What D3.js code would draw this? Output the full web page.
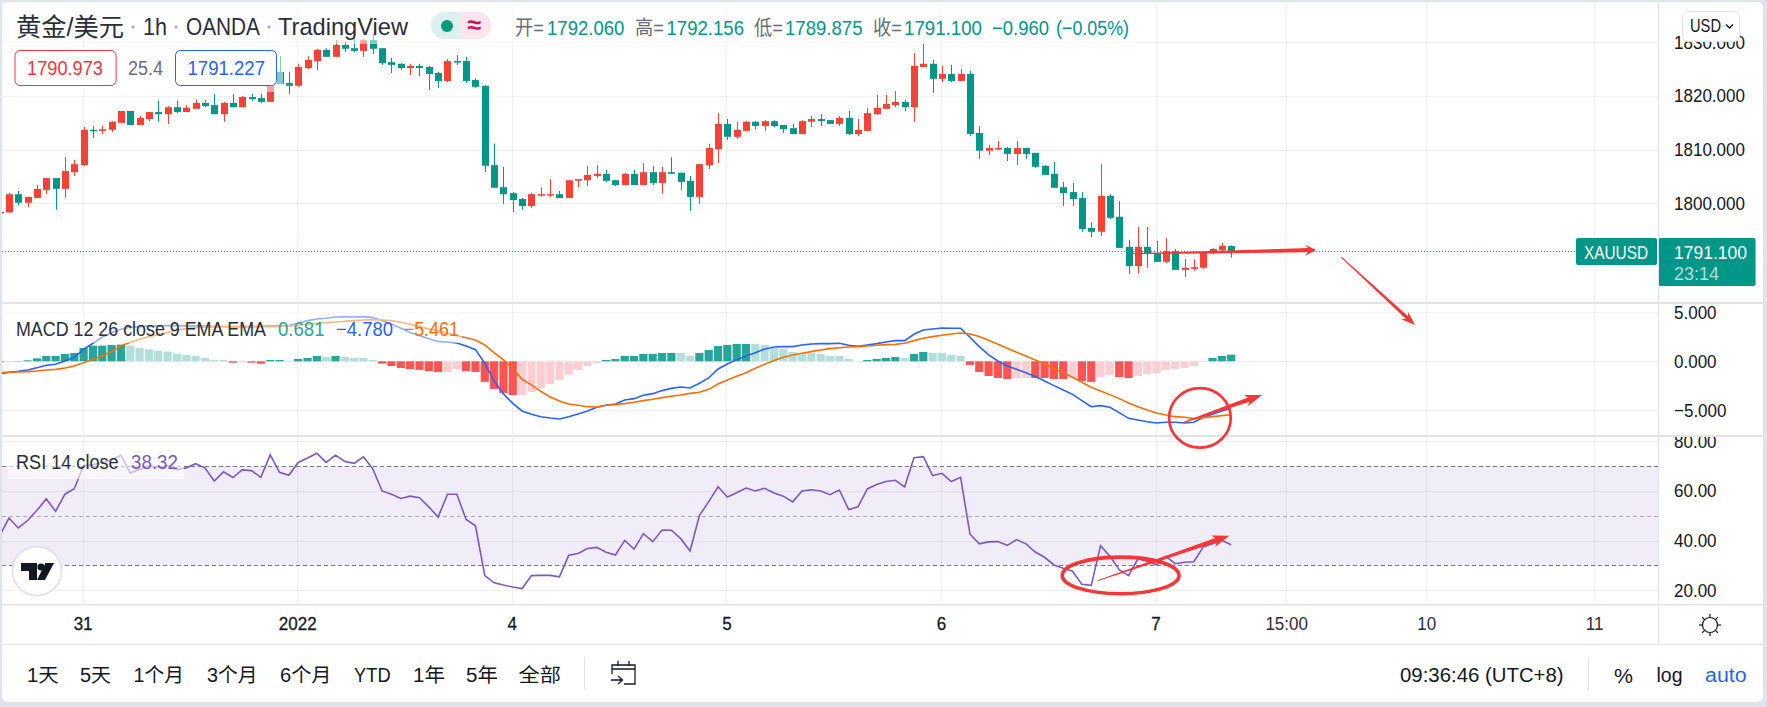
<!DOCTYPE html>
<html><head><meta charset="utf-8">
<script src="https://cdnjs.cloudflare.com/ajax/libs/d3/7.8.5/d3.min.js"></script>
<style>html,body{margin:0;padding:0;background:#e0e3eb;overflow:hidden}svg{display:block}
text{font-family:"Liberation Sans","Noto Sans CJK SC",sans-serif}</style></head>
<body><svg id="c" width="1767" height="707"></svg>
<script>
const firstIndex = -9;
const opens = [1798.2,1798.3,1801.7,1800.1,1801,1802.5,1804.7,1802.7,1805.8,
1807.1,1813.7,1813.5,1813.7,1815,1817.2,1814.6,1815.7,1817,1816.6,
1817.9,1817,1817.6,1818.7,1818.3,1816.6,1818.7,1817.9,1819.8,1819.6,
1818.9,1824.5,1822.4,1821.9,1825.2,1826.5,1828.6,1827.3,1829.5,1828.9,
1828.4,1830.4,1828.9,1826.3,1826,1825.2,1825.6,1825.4,1824.3,1822.8,
1826.5,1826.5,1823,1821.9,1807.1,1803,1801.9,1800.8,1799.5,1801.5,
1801.5,1801.7,1801,1804.2,1804.3,1805.1,1805.5,1804.3,1803.4,1805.5,
1803.4,1805.8,1803.8,1805.8,1805.7,1804.2,1801.2,1807.1,1810.1,1814.8,
1812.4,1813.5,1815.2,1814.4,1815.3,1814.6,1814,1812.9,1815.2,1815.7,
1815.5,1814.8,1815.9,1812.9,1813.5,1816.6,1817.6,1818.3,1818.9,1817.9,
1825.4,1826,1823.2,1824.1,1822.8,1824.1,1813.1,1809.8,1810.1,1810.3,
1809.2,1810.3,1809.4,1807,1805.5,1803,1802.1,1801,1795.4,1794.7,
1801.4,1797.5,1791.9,1788.3,1791.9,1790.7,1789.1,1791.1,1787.6,1787.8,
1788,1790.7,1791.3,1792.06];
const highs = [1798.4,1801.9,1802.3,1801.2,1803.4,1804.7,1804.7,1808.6,1808.1,
1814.2,1814.4,1814.5,1815.3,1817.2,1817.2,1816.3,1817,1819.1,1818.1,
1819.1,1818.3,1819.4,1819.3,1820.4,1818.9,1820.4,1820,1820.4,1820.4,
1822,1827.4,1824.5,1826,1827.4,1828.8,1828.9,1830.4,1830.1,1830.8,
1830.6,1831.7,1828.9,1827.1,1826.1,1826,1826,1825.6,1824.5,1826.9,
1827.6,1827.3,1823.3,1822,1811.1,1806.8,1802.1,1801,1801.9,1803,
1804.5,1802.3,1804.3,1804.5,1807,1807.1,1806.2,1804.3,1805.7,1806.2,
1807.5,1807,1806.8,1808.6,1805.7,1805.1,1807.3,1811.1,1816.8,1815.7,
1815.2,1815.3,1815.3,1815.5,1815.5,1814.6,1814.8,1815.5,1816.3,1816.6,
1815.5,1816.3,1817.2,1815.7,1817.8,1820.2,1820.2,1820.9,1819.3,1828,
1829.7,1826.7,1825.6,1825.8,1825,1824.7,1814.4,1810.9,1811.6,1810.5,
1811.6,1810.3,1809.4,1807.1,1807.7,1804,1803.8,1802.1,1796.5,1807.3,
1801.7,1800.4,1793.2,1795.6,1795.6,1793,1793.5,1791.5,1789.6,1789.6,
1790.9,1791.7,1792.6,1792.156];
const lows = [1798.2,1798.3,1799.6,1799.3,1801,1801.7,1798.8,1801,1805.1,
1807,1812.2,1812.9,1813.3,1815,1814.6,1814.6,1815.3,1815.2,1814.8,
1816.8,1817,1817.6,1817.9,1816.6,1815.2,1817.9,1817.9,1819.1,1818.7,
1818.9,1822.2,1820.4,1821.7,1825,1824.8,1827.3,1827.3,1828.2,1828.2,
1827.3,1827.8,1825.8,1824.3,1824.8,1823.9,1823.7,1821.1,1821.5,1822.6,
1825.8,1822.4,1821.5,1805.8,1802.9,1799.9,1798.4,1798.8,1799.1,1801.2,
1801.2,1801,1801,1803,1803.2,1804.7,1804,1803.2,1803.4,1803.4,
1803.4,1803.4,1801.9,1805.5,1802.5,1798.6,1799.9,1806.4,1807.5,1811.8,
1812,1813.5,1813.8,1813.5,1814.2,1813.1,1812.9,1812.9,1814.2,1814.4,
1814.8,1814.4,1812.7,1812.5,1813.5,1816.5,1817.6,1817.9,1817.2,1815.2,
1825.4,1820.6,1822.6,1822.6,1822.8,1812.5,1808.3,1809,1809.9,1807.9,
1807.1,1808.3,1806.6,1805.3,1802.9,1799.5,1799.5,1794.7,1793.7,1793.9,
1797.1,1791.7,1786.8,1787,1788,1789.1,1788.9,1787.6,1786.3,1787.4,
1787.8,1790.6,1791.1,1789.875];
const closes = [1798.4,1801.7,1800.1,1801.2,1802.7,1804.7,1802.7,1806,1807.3,
1813.7,1813.5,1813.8,1815.2,1817.2,1814.6,1815.9,1817,1816.6,1817.9,
1817,1817.8,1818.7,1818.1,1816.6,1818.7,1817.9,1819.8,1819.4,1818.9,
1821.9,1822.2,1821.9,1825.4,1826.7,1828.6,1827.3,1829.5,1828.8,1828.4,
1830.4,1828.8,1826.1,1825.8,1825.2,1825.6,1825.2,1824.1,1822.8,1826.5,
1826.3,1822.8,1821.7,1807,1802.9,1801.7,1800.6,1799.5,1801.7,1801.7,
1801.7,1801,1804.3,1804.5,1805.3,1805.5,1804.2,1803.4,1805.5,1803.4,
1805.8,1803.8,1805.8,1805.5,1804,1801.2,1807.3,1810.3,1814.8,1812.4,
1813.7,1815.2,1814.4,1815.3,1814.4,1813.8,1812.9,1815.3,1815.7,1815.3,
1814.8,1815.9,1812.9,1813.7,1816.8,1817.8,1818.5,1818.9,1817.9,1825.6,
1826,1823.2,1824.1,1822.8,1824.1,1812.9,1809.8,1810.3,1810.3,1809.2,
1810.3,1809.2,1806.8,1805.3,1802.9,1801.9,1800.8,1795.2,1794.7,1801.4,
1797.3,1791.7,1788.3,1791.9,1790.6,1789.1,1791.1,1787.6,1788,1788.1,
1790.9,1791.5,1792.1,1791.1];
const histogram = [-.1,-.1,.03,.1,.3,.54,.54,.75,.85,
1.36,1.6,1.6,1.67,1.7,1.6,1.36,1.22,1.09,.99,
.78,.65,.54,.34,.14,.14,-.14,-.1,-.14,-.24,
.14,.14,.03,.24,.34,.54,.44,.54,.44,.34,
.34,.14,-.24,-.48,-.68,-.78,-.88,-.99,-1.09,-1.09,
-.78,-.99,-1.09,-2.1,-2.82,-3.23,-3.44,-3.44,-3.13,-2.72,
-2.31,-1.9,-1.39,-.88,-.48,-.2,.14,.24,.54,.54,
.75,.75,.85,.85,.85,.54,.85,1.16,1.56,1.67,
1.77,1.77,1.77,1.67,1.36,1.26,.95,.85,.85,.75,
.54,.54,.24,.03,.14,.24,.34,.44,.34,.75,
.95,.85,.85,.65,.54,-.37,-1.09,-1.5,-1.7,-1.8,
-1.7,-1.7,-1.7,-1.7,-1.8,-1.8,-1.7,-2,-2.1,-1.6,
-1.39,-1.6,-1.7,-1.5,-1.29,-1.19,-.88,-.78,-.68,-.48,
-.05,.34,.54,.681];
const histPale = [-8,5,6,7,8,9,10,11,12,13,14,15,17,22,26,28,29,30,31,39,40,47,48,49,50,51,52,53,54,55,
64,65,72,73,74,75,76,77,78,79,80,81,82,83,88,91,92,93,94,100,101,106,109,110,113,114,115,116,117,118,119,120];
const macdLine = [-1.29,-1.12,-1.02,-.88,-.65,-.41,-.31,.03,.41,
1.22,1.84,2.45,2.93,3.27,3.47,3.54,3.61,3.61,3.64,
3.64,3.61,3.61,3.61,3.54,3.54,3.5,3.54,3.54,3.57,
3.61,3.61,3.64,3.88,4.15,4.32,4.39,4.52,4.56,4.52,
4.56,4.46,4.15,3.81,3.37,2.93,2.62,2.31,2.01,1.97,
1.87,1.56,1.19,-.2,-2.01,-3.33,-4.29,-5.07,-5.41,-5.65,
-5.78,-5.88,-5.65,-5.37,-5.07,-4.69,-4.49,-4.35,-3.95,-3.81,
-3.47,-3.3,-2.99,-2.76,-2.62,-2.72,-2.24,-1.7,-.78,-.27,
.17,.54,.88,1.26,1.46,1.5,1.5,1.67,1.77,1.8,
1.8,1.84,1.63,1.53,1.67,1.8,1.97,2.11,2.11,2.76,
3.2,3.3,3.4,3.37,3.37,2.45,1.5,.65,.03,-.48,
-.82,-1.16,-1.56,-2.01,-2.48,-2.93,-3.37,-4.01,-4.63,-4.52,
-4.69,-5.24,-5.82,-5.99,-6.16,-6.29,-6.22,-6.22,-6.29,-6.22,
-5.71,-5.41,-5.07,-4.78];
const signalLine = [-1.16,-1.12,-1.09,-1.05,-.99,-.88,-.82,-.68,-.48,
-.14,.2,.54,.99,1.56,1.94,2.24,2.52,2.72,2.93,
3.2,3.33,3.44,3.5,3.54,3.54,3.54,3.54,3.54,3.54,
3.54,3.57,3.61,3.67,3.78,3.88,3.95,4.01,4.08,4.15,
4.22,4.25,4.22,4.15,3.98,3.78,3.54,3.3,3.13,2.86,
2.62,2.41,2.18,1.67,.88,.14,-.71,-1.84,-2.41,-3.06,
-3.64,-4.05,-4.35,-4.49,-4.63,-4.66,-4.49,-4.42,-4.32,-4.18,
-4.01,-3.88,-3.71,-3.57,-3.44,-3.27,-3.16,-2.86,-2.31,-1.9,
-1.53,-1.16,-.71,-.31,.07,.41,.65,.82,.99,1.16,
1.29,1.39,1.46,1.5,1.56,1.63,1.7,1.73,1.84,2.11,
2.35,2.52,2.65,2.79,2.89,2.79,2.52,2.14,1.73,1.33,
.92,.54,.14,-.27,-.71,-1.16,-1.63,-2.14,-2.65,-3.03,
-3.4,-3.81,-4.25,-4.63,-4.97,-5.27,-5.48,-5.65,-5.71,-5.85,
-5.75,-5.65,-5.54,-5.461];
const rsiLine = [42,49.1,45.1,48.1,52.2,56.8,51.8,58.7,60.9,
70.3,70.6,71.3,72.6,74.4,67.2,68.6,70.1,69.5,70.2,
68.6,69.3,71,69.3,64,67.7,65.4,68.5,68.2,65.5,
74.5,67.5,66.3,71.5,73.3,75.2,71.5,74.4,71.9,71.1,
73.7,68.9,60,58.7,57,57.9,57.3,53.6,49.5,58.7,
58.7,48.5,46,25.9,23,22.1,21.3,20.7,25.9,26,
26,25.4,34.1,34.8,36.8,37.3,35.3,34.2,40.1,36.6,
42.8,39.6,44.3,44.2,40.8,35.8,50.1,55.7,61.7,57.6,
59.3,61.2,60,61.1,59.2,57.9,55.6,60,60.5,60,
58.5,60.4,52.5,53.6,60.8,62.6,63.8,64.3,61.6,73.4,
73.8,66.2,67.1,63.8,65.5,42.7,38.7,39.5,39.6,38.1,
40.4,38.7,35.4,33.3,30.2,28.9,27.7,22.4,22,38,
33.7,28.3,25.9,32.6,31.7,30.3,33.7,30.7,31.3,31.5,
37.4,38.7,40.1,38.32];
const priceTicks = [1800,1810,1820,1830];
const macdTicks = [-5,0,5];
const rsiTicks = [20,40,60,80];
const timeTickIndex = [0,23,46,69,92,115,129,144,162];
const timeTickLabels = ["31","2022","4","5","6","7","15:00","10","11"];
const lastPrice = 1791.1;
const rangeButtons = [["1天",27,58.6],["5天",80,111],["1个月",133.6,184],["3个月",207,257.6],["6个月",280,331.5],["YTD",354,390.6],["1年",413,445],["5年",466,498],["全部",518.6,561]];

const RED="#f44336", TEAL="#009688", BLUE="#2962ff", ORANGE="#ff6d00", PURPLE="#7e57c2", INK="#131722", GREY="#5d606b", LINE="#e0e3eb", ANN="#f93535";
const R=1658;
const svg=d3.select("#c");
const defs=svg.append("defs");
const clip=(id,x,y,w,h)=>defs.append("clipPath").attr("id",id).append("rect").attr("x",x).attr("y",y).attr("width",w).attr("height",h);
clip("p1",2,2,R-2,300); clip("p2",2,304,R-2,131); clip("p3",2,437,R-2,167);
clip("a1",R,2,105,300); clip("a2",R,304,105,131); clip("a3",R,437,105,167);

const x=d3.scaleLinear().domain([0,162]).range([83.6,1595.06]);
const yP=d3.scaleLinear().domain([1790,1830]).range([257,42.3]);
const yM=d3.scaleLinear().domain([-5,5]).range([410.3,312.3]);
const yR=d3.scaleLinear().domain([20,80]).range([590.3,441.3]);
const idx=closes.map((_,k)=>k+firstIndex);
const crisp=v=>Math.round(v)+.5;

svg.append("rect").attr("x",2).attr("y",2).attr("width",1761).attr("height",700).attr("rx",6).attr("fill","#fff");

// RSI band
const p3=svg.append("g").attr("clip-path","url(#p3)");
p3.append("rect").attr("x",2).attr("width",R-2).attr("y",yR(70)).attr("height",yR(30)-yR(70)).attr("fill","#7e57c2").attr("fill-opacity",.115);

// grid
const grid=svg.append("g").attr("stroke","#2a2e39").attr("stroke-opacity",.07).attr("stroke-width",1);
timeTickIndex.forEach(i=>grid.append("line").attr("x1",crisp(x(i))-1).attr("x2",crisp(x(i))-1).attr("y1",2).attr("y2",604));
const hg=(ticks,sc)=>ticks.forEach(t=>grid.append("line").attr("x1",2).attr("x2",R).attr("y1",crisp(sc(t))).attr("y2",crisp(sc(t))));
hg(priceTicks,yP);hg(macdTicks,yM);hg(rsiTicks,yR);

// RSI levels
[[70,"#787b86",1],[50,"#787b86",.55],[30,"#787b86",1]].forEach(([v,c,o])=>p3.append("line").attr("x1",2).attr("x2",R).attr("y1",crisp(yR(v))).attr("y2",crisp(yR(v))).attr("stroke",c).attr("stroke-opacity",o).attr("stroke-dasharray","4 3"));

// candles
const p1=svg.append("g").attr("clip-path","url(#p1)");
p1.append("line").attr("x1",2).attr("x2",1576).attr("y1",crisp(yP(lastPrice))).attr("y2",crisp(yP(lastPrice))).attr("stroke",TEAL).attr("stroke-dasharray","1 2");
const col=k=>closes[k]>=opens[k]?RED:TEAL;
p1.selectAll("line.w").data(idx).join("line").attr("class","w")
 .attr("x1",(d,k)=>crisp(x(d))).attr("x2",(d,k)=>crisp(x(d)))
 .attr("y1",(d,k)=>yP(highs[k])).attr("y2",(d,k)=>yP(lows[k])).attr("stroke",(d,k)=>col(k));
p1.selectAll("rect.b").data(idx).join("rect").attr("class","b")
 .attr("x",(d,k)=>crisp(x(d))-3.5).attr("width",7)
 .attr("y",(d,k)=>yP(Math.max(opens[k],closes[k])))
 .attr("height",(d,k)=>Math.max(1.5,Math.abs(yP(opens[k])-yP(closes[k]))))
 .attr("fill",(d,k)=>col(k));

// MACD
const p2=svg.append("g").attr("clip-path","url(#p2)");
p2.selectAll("rect").data(idx).join("rect")
 .attr("x",d=>x(d)-4.1).attr("width",8.2)
 .attr("y",(d,k)=>Math.min(yM(0),yM(histogram[k])))
 .attr("height",(d,k)=>Math.abs(yM(histogram[k])-yM(0)))
 .attr("fill",(d,k)=>{const pale=histPale.includes(d);return histogram[k]>=0?(pale?"#b2dfdb":"#26a69a"):(pale?"#ffcdd2":"#ff5252")});
const lineOf=(sc,arr)=>d3.line().x(d=>x(d)).y((d,k)=>sc(arr[k]))(idx);
p2.append("path").attr("d",lineOf(yM,macdLine)).attr("fill","none").attr("stroke",BLUE).attr("stroke-width",1.6);
p2.append("path").attr("d",lineOf(yM,signalLine)).attr("fill","none").attr("stroke",ORANGE).attr("stroke-width",1.6);

// RSI line
p3.append("path").attr("d",lineOf(yR,rsiLine)).attr("fill","none").attr("stroke",PURPLE).attr("stroke-width",1.6);

// text helper
const ui=svg.append("g");
function T(s,x0,x1,base,size,fill,o={}){
 const t=ui.append("text").attr("x",x0).attr("y",base).attr("font-size",size).attr("fill",fill).text(s);
 if(x1!=null) t.attr("textLength",x1-x0).attr("lengthAdjust","spacingAndGlyphs");
 if(o.weight) t.attr("font-weight",o.weight);
 if(o.opacity) t.attr("opacity",o.opacity);
 return t;
}
const veil=(x0,y0,x1,y1,o)=>ui.append("rect").attr("x",x0).attr("y",y0).attr("width",x1-x0).attr("height",y1-y0).attr("fill","#fff").attr("fill-opacity",o);
veil(2,2,1137,44,.5); veil(2,44,283,92,.5); veil(2,312,462,343,.5); veil(8,452,184,479,.6);

// legend main
T("黄金/美元",16,124,35.5,25,"#2a2e39");
T("1h",143,167,35,24.5,"#2a2e39"); T("OANDA",186,260,35,24.5,"#2a2e39"); T("TradingView",278,408,35,24.5,"#2a2e39");
[133,176,269].forEach(c=>ui.append("circle").attr("cx",c).attr("cy",27).attr("r",1.8).attr("fill","#b2b5be"));
const pill=ui.append("g");
pill.append("path").attr("fill","#dcf1ed").attr("d","M461 12V39H444.5A13.5 13.5 0 0 1 444.5 12Z");
pill.append("path").attr("d","M461 12H477.5A13.5 13.5 0 0 1 477.5 39H461Z").attr("fill","#fce4ec");
pill.append("circle").attr("cx",447).attr("cy",26).attr("r",6).attr("fill","#089981");
T("≈",467,481,33,24,"#c2185b",{weight:"bold"});

const hdr=34.5, hs=20.5;
T("开=",515,544,hdr,hs,"#6a6d78");T("1792.060",547,624.4,hdr,hs,TEAL);
T("高=",635,664,hdr,hs,"#6a6d78");T("1792.156",666.5,744,hdr,hs,TEAL);
T("低=",754,783,hdr,hs,"#6a6d78");T("1789.875",785,862.5,hdr,hs,TEAL);
T("收=",873,902,hdr,hs,"#6a6d78");T("1791.100",904,982,hdr,hs,TEAL);
T("−0.960",992,1049,hdr,hs,TEAL);T("(−0.05%)",1056,1129,hdr,hs,TEAL);

const box=(x0,x1,c)=>ui.append("rect").attr("x",x0+.5).attr("y",50.5).attr("width",x1-x0).attr("height",35).attr("rx",5).attr("fill","#fff").attr("fill-opacity",.85).attr("stroke",c);
box(14.5,115.6,"#f23645");box(175,276,BLUE);
T("1790.973",27,103,75,hs,"#f23645");T("25.4",128,163,75,hs,"#6a6d78");T("1791.227",187.5,265,75,hs,BLUE);

// pane legends
const ps=20;
T("MACD 12 26 close 9 EMA EMA",16,266,335.5,ps,"#2a2e39");
T("0.681",278,324.5,335.5,ps,"#26a69a");T("−4.780",336,393,335.5,ps,BLUE);T("−5.461",403.7,459,335.5,ps,ORANGE);
T("RSI 14 close",16,118.6,468.5,ps,"#2a2e39");T("38.32",131,178,468.5,ps,PURPLE);

// TV logo
const logo=ui.append("g");
logo.append("circle").attr("cx",37).attr("cy",571).attr("r",24.5).attr("fill","#fff").attr("stroke","#e0e3eb").attr("stroke-width",1.8);
logo.append("path").attr("d","M21 563H37V580H29V571H21Z").attr("fill","#131722");
logo.append("circle").attr("cx",41).attr("cy",567).attr("r",3.6).attr("fill","#131722");
logo.append("path").attr("d","M45.5 563H54L45 580H37Z").attr("fill","#131722");

// axes
const styleAxis=g=>{
 g.select(".domain").remove();
 g.selectAll("text").attr("font-size",18.4).attr("fill",INK).attr("font-family",'"Liberation Sans",sans-serif')
  .each(function(){this.setAttribute("textLength",this.getComputedTextLength()*.925);this.setAttribute("lengthAdjust","spacingAndGlyphs");});
};
const ax=(sc,ticks,fmt,cl)=>svg.append("g").attr("clip-path","url(#"+cl+")").append("g").attr("transform","translate("+R+",0)")
 .call(d3.axisRight(sc).tickValues(ticks).tickFormat(d3.format(fmt)).tickSize(0).tickPadding(16)).call(styleAxis);
ax(yP,priceTicks,".3f","a1");ax(yM,macdTicks,".3f","a2");ax(yR,rsiTicks,".2f","a3");
const timeAxis=svg.append("g").attr("transform","translate(-1,612.5)")
 .call(d3.axisBottom(x).tickValues(timeTickIndex).tickFormat((d,k)=>timeTickLabels[k]).tickSize(0).tickPadding(4)).call(styleAxis);
timeAxis.selectAll("text").attr("fill",(d,k)=>k>=6?"#2a2e39":INK).attr("stroke",(d,k)=>k<6?INK:"none").attr("stroke-width",.3);

// price labels
const tag=svg.append("g");
tag.append("rect").attr("x",1576).attr("y",238).attr("width",81).attr("height",27).attr("rx",2).attr("fill",TEAL);
tag.append("rect").attr("x",1658).attr("y",238).attr("width",97.6).attr("height",48).attr("rx",2).attr("fill",TEAL);
const tagT=(s,a,b,base,c)=>tag.append("text").attr("x",a).attr("y",base).attr("font-size",19).attr("fill",c).attr("textLength",b-a).attr("lengthAdjust","spacingAndGlyphs").text(s);
tagT("XAUUSD",1584,1648,258.5,"#fff");tagT("1791.100",1674,1747,258.5,"#fff");tagT("23:14",1674,1719,279.5,"#b2dfdb");

// structure lines
const st=svg.append("g").attr("fill",LINE);
st.append("rect").attr("x",2).attr("y",302).attr("width",1761).attr("height",2);
st.append("rect").attr("x",2).attr("y",435).attr("width",1761).attr("height",2);
st.append("rect").attr("x",2).attr("y",604).attr("width",1761).attr("height",1.5);
st.append("rect").attr("x",2).attr("y",644).attr("width",1761).attr("height",1);
st.append("rect").attr("x",1658).attr("y",2).attr("width",1).attr("height",642);

// currency button (over the axis)
const usd=svg.append("g");
usd.append("rect").attr("x",1682.5).attr("y",11.5).attr("width",57).attr("height",30).attr("rx",5).attr("fill","#fff").attr("stroke",LINE);
usd.append("text").attr("x",1690).attr("y",32).attr("font-size",18).attr("fill",INK).attr("textLength",31).attr("lengthAdjust","spacingAndGlyphs").text("USD");
usd.append("path").attr("d","M1726 24.5l3.5 3.5 3.5-3.5").attr("fill","none").attr("stroke",INK).attr("stroke-width",1.4);

// bottom toolbar
rangeButtons.forEach(([s,a,b])=>T(s,a,b,682,19.5,INK));
ui.raise();
st.append("rect").attr("x",584).attr("y",657).attr("width",1).attr("height",33);
st.append("rect").attr("x",1588).attr("y",657).attr("width",1).attr("height",33);
const icon=svg.append("g").attr("fill","none").attr("stroke",INK).attr("stroke-width",1.3);
icon.append("path").attr("d","M612 674V665H635V684H624M612 669H635M618 661V666M629 661V666M611 680H622M618 676L622.5 680L618 684");
T("09:36:46 (UTC+8)",1400,1563.6,682,19.5,INK);T("%",1614,1633,683,21,INK);T("log",1656.5,1682.5,682,19.5,INK);T("auto",1705,1746.6,682,19.5,BLUE);
const sun=svg.append("g").attr("fill","none").attr("stroke",INK).attr("stroke-width",1.2);
sun.append("circle").attr("cx",1710).attr("cy",625).attr("r",7.5);
d3.range(8).forEach(k=>{const a=k*Math.PI/4;sun.append("line").attr("x1",1710+8*Math.cos(a+Math.PI/2)).attr("y1",625+8*Math.sin(a+Math.PI/2)).attr("x2",1710+11*Math.cos(a+Math.PI/2)).attr("y2",625+11*Math.sin(a+Math.PI/2));});

// hand-drawn annotations, in data coordinates
const annArrows=[
 {sc:yP, from:[112.2,1790.6], to:[132.1,1791.3], neck:4.2, head:11, len:8},
 {sc:yM, from:[134.8,10.64], to:[142.7,3.7], neck:3.4, head:10, len:11},
 {sc:yM, from:[117.8,-6.27], to:[126.3,-3.44], neck:4.4, head:12, len:14},
 {sc:yR, from:[108.7,23.9], to:[122.8,42], neck:4.6, head:12, len:14}];
const annEllipses=[
 {sc:yM, i0:116.2, i1:123.1, v0:-2.6, v1:-8.95, w:2.7},
 {sc:yR, i0:104.7, i1:117.6, v0:34.1, v1:17.9, w:3.6}];
const an=svg.append("g");
annArrows.forEach(a=>{
 const p0=[x(a.from[0]),a.sc(a.from[1])],p1=[x(a.to[0]),a.sc(a.to[1])];
 const dx=p1[0]-p0[0],dy=p1[1]-p0[1],L=Math.hypot(dx,dy),ux=dx/L,uy=dy/L,nx=-uy,ny=ux;
 const nk=[p1[0]-ux*a.len,p1[1]-uy*a.len];
 const pt=(b,off,back=0)=>[b[0]+nx*off-ux*back,b[1]+ny*off-uy*back];
 const poly=[pt(p0,.5),pt(nk,a.neck/2),pt(nk,a.head/2,3),p1,pt(nk,-a.head/2,3),pt(nk,-a.neck/2),pt(p0,-.5)];
 an.append("path").attr("d",d3.line()(poly)+"Z").attr("fill",ANN);
});
annEllipses.forEach(e=>an.append("ellipse").attr("cx",(x(e.i0)+x(e.i1))/2).attr("cy",(e.sc(e.v0)+e.sc(e.v1))/2)
 .attr("rx",(x(e.i1)-x(e.i0))/2-e.w/2).attr("ry",(e.sc(e.v1)-e.sc(e.v0))/2-e.w/2).attr("fill","none").attr("stroke",ANN).attr("stroke-width",e.w));
</script></body></html>
